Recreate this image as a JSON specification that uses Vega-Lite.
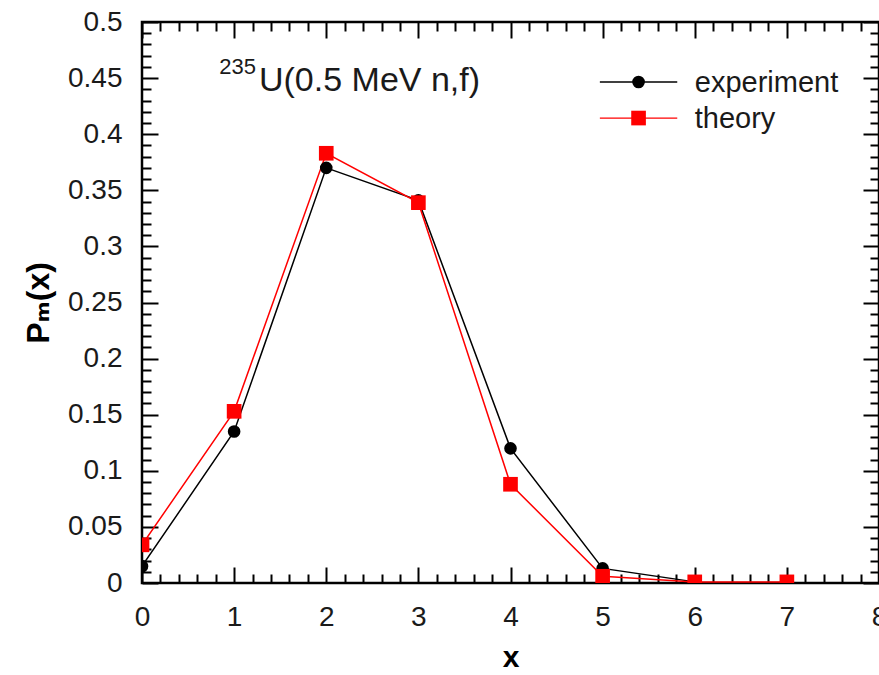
{
  "$schema": "https://vega.github.io/schema/vega-lite/v6.json",
  "width": 737,
  "height": 561,
  "autosize": {"type": "none"},
  "padding": {"left": 142, "top": 22, "right": 0, "bottom": 92},
  "background": "white",
  "config": {
    "view": {"stroke": "black", "strokeWidth": 2.5},
    "font": "Liberation Sans",
    "axis": {
      "grid": false,
      "domain": false,
      "tickColor": "black",
      "tickWidth": 2,
      "labelFont": "Liberation Sans",
      "labelFontSize": 28,
      "labelColor": "#1a1a1a",
      "labelFlush": false,
      "labelOverlap": false,
      "titleFont": "Liberation Sans, DejaVu Sans",
      "titleFontWeight": "bold",
      "titleColor": "black"
    }
  },
  "data": {
    "values": [
      {"x": 0, "P": 0.015, "series": "experiment"},
      {"x": 1, "P": 0.135, "series": "experiment"},
      {"x": 2, "P": 0.370, "series": "experiment"},
      {"x": 3, "P": 0.341, "series": "experiment"},
      {"x": 4, "P": 0.120, "series": "experiment"},
      {"x": 5, "P": 0.013, "series": "experiment"},
      {"x": 6, "P": 0.001, "series": "experiment"},
      {"x": 0, "P": 0.034, "series": "theory"},
      {"x": 1, "P": 0.153, "series": "theory"},
      {"x": 2, "P": 0.383, "series": "theory"},
      {"x": 3, "P": 0.339, "series": "theory"},
      {"x": 4, "P": 0.088, "series": "theory"},
      {"x": 5, "P": 0.006, "series": "theory"},
      {"x": 6, "P": 0.001, "series": "theory"},
      {"x": 7, "P": 0.001, "series": "theory"}
    ]
  },
  "resolve": {"axis": {"x": "independent", "y": "independent"}},
  "layer": [
    {
      "mark": {"type": "line", "clip": true, "strokeWidth": 1.5},
      "encoding": {
        "x": {"field": "x", "type": "quantitative",
          "scale": {"domain": [0, 8], "nice": false, "zero": false},
          "axis": {"orient": "bottom", "values": [0,1,2,3,4,5,6,7,8], "format": "d", "tickSize": -16, "labelPadding": 36, "title": "x", "titleFontSize": 30, "titlePadding": 11}},
        "y": {"field": "P", "type": "quantitative",
          "scale": {"domain": [0, 0.5], "nice": false},
          "axis": {"orient": "left", "values": [0,0.05,0.1,0.15,0.2,0.25,0.3,0.35,0.4,0.45,0.5], "format": "~g", "tickSize": -16, "labelPadding": 36, "title": "Pₘ(x)", "titleFontSize": 32, "titlePadding": 12}},
        "stroke": {"field": "series", "type": "nominal",
          "scale": {"domain": ["experiment", "theory"], "range": ["black", "red"]}, "legend": null}
      }
    },
    {
      "transform": [{"filter": "datum.series === 'experiment'"}],
      "mark": {"type": "point", "shape": "circle", "filled": true, "size": 160, "color": "black", "opacity": 1, "clip": true},
      "encoding": {
        "x": {"field": "x", "type": "quantitative",
          "axis": {"orient": "top", "values": [0,1,2,3,4,5,6,7,8], "tickSize": -16, "labels": false, "title": null}},
        "y": {"field": "P", "type": "quantitative",
          "axis": {"orient": "right", "values": [0,0.05,0.1,0.15,0.2,0.25,0.3,0.35,0.4,0.45,0.5], "tickSize": -16, "labels": false, "title": null}}
      }
    },
    {
      "transform": [{"filter": "datum.series === 'theory'"}],
      "mark": {"type": "point", "shape": "square", "filled": true, "size": 215, "color": "red", "opacity": 1, "clip": true},
      "encoding": {
        "x": {"field": "x", "type": "quantitative",
          "axis": {"orient": "bottom", "values": [0.2,0.4,0.6,0.8,1.2,1.4,1.6,1.8,2.2,2.4,2.6,2.8,3.2,3.4,3.6,3.8,4.2,4.4,4.6,4.8,5.2,5.4,5.6,5.8,6.2,6.4,6.6,6.8,7.2,7.4,7.6,7.8], "tickSize": -9, "labels": false, "title": null}},
        "y": {"field": "P", "type": "quantitative",
          "axis": {"orient": "left", "values": [0.01,0.02,0.03,0.04,0.06,0.07,0.08,0.09,0.11,0.12,0.13,0.14,0.16,0.17,0.18,0.19,0.21,0.22,0.23,0.24,0.26,0.27,0.28,0.29,0.31,0.32,0.33,0.34,0.36,0.37,0.38,0.39,0.41,0.42,0.43,0.44,0.46,0.47,0.48,0.49], "tickSize": -9, "labels": false, "title": null}}
      }
    },
    {
      "data": {"values": [{"series": "experiment"}]},
      "mark": {"type": "rule", "color": "black", "strokeWidth": 1.6},
      "encoding": {
        "x": {"datum": 4.97, "type": "quantitative",
          "axis": {"orient": "top", "values": [0.2,0.4,0.6,0.8,1.2,1.4,1.6,1.8,2.2,2.4,2.6,2.8,3.2,3.4,3.6,3.8,4.2,4.4,4.6,4.8,5.2,5.4,5.6,5.8,6.2,6.4,6.6,6.8,7.2,7.4,7.6,7.8], "tickSize": -9, "labels": false, "title": null}},
        "x2": {"datum": 5.81},
        "y": {"datum": 0.4465, "type": "quantitative",
          "axis": {"orient": "right", "values": [0.01,0.02,0.03,0.04,0.06,0.07,0.08,0.09,0.11,0.12,0.13,0.14,0.16,0.17,0.18,0.19,0.21,0.22,0.23,0.24,0.26,0.27,0.28,0.29,0.31,0.32,0.33,0.34,0.36,0.37,0.38,0.39,0.41,0.42,0.43,0.44,0.46,0.47,0.48,0.49], "tickSize": -9, "labels": false, "title": null}}
      }
    },
    {
      "data": {"values": [{"series": "theory"}]},
      "mark": {"type": "rule", "color": "red", "strokeWidth": 1.3},
      "encoding": {
        "x": {"datum": 4.97, "type": "quantitative", "axis": null},
        "x2": {"datum": 5.81},
        "y": {"datum": 0.4144, "type": "quantitative", "axis": null}
      }
    },
    {
      "data": {"values": [{"series": "experiment"}]},
      "mark": {"type": "point", "shape": "circle", "filled": true, "size": 160, "color": "black", "opacity": 1},
      "encoding": {
        "x": {"datum": 5.39, "type": "quantitative", "axis": null},
        "y": {"datum": 0.4465, "type": "quantitative", "axis": null}
      }
    },
    {
      "data": {"values": [{"series": "theory"}]},
      "mark": {"type": "point", "shape": "square", "filled": true, "size": 215, "color": "red", "opacity": 1},
      "encoding": {
        "x": {"datum": 5.39, "type": "quantitative", "axis": null},
        "y": {"datum": 0.4144, "type": "quantitative", "axis": null}
      }
    },
    {
      "data": {"values": [{"label": "experiment"}]},
      "mark": {"type": "text", "align": "left", "baseline": "alphabetic", "fontSize": 29, "font": "Liberation Sans", "color": "#1a1a1a"},
      "encoding": {
        "x": {"datum": 6.0, "type": "quantitative", "axis": null},
        "y": {"datum": 0.4376, "type": "quantitative", "axis": null},
        "text": {"field": "label"}
      }
    },
    {
      "data": {"values": [{"label": "theory"}]},
      "mark": {"type": "text", "align": "left", "baseline": "alphabetic", "fontSize": 29, "font": "Liberation Sans", "color": "#1a1a1a"},
      "encoding": {
        "x": {"datum": 6.0, "type": "quantitative", "axis": null},
        "y": {"datum": 0.4055, "type": "quantitative", "axis": null},
        "text": {"field": "label"}
      }
    },
    {
      "data": {"values": [{"label": "U(0.5 MeV n,f)"}]},
      "mark": {"type": "text", "align": "left", "baseline": "alphabetic", "fontSize": 34, "font": "Liberation Sans", "color": "#1a1a1a"},
      "encoding": {
        "x": {"datum": 1.27, "type": "quantitative", "axis": null},
        "y": {"datum": 0.4385, "type": "quantitative", "axis": null},
        "text": {"field": "label"}
      }
    },
    {
      "data": {"values": [{"label": "235"}]},
      "mark": {"type": "text", "align": "right", "baseline": "alphabetic", "fontSize": 22, "font": "Liberation Sans", "color": "#1a1a1a", "dx": -3, "dy": -17},
      "encoding": {
        "x": {"datum": 1.27, "type": "quantitative", "axis": null},
        "y": {"datum": 0.4385, "type": "quantitative", "axis": null},
        "text": {"field": "label"}
      }
    }
  ]
}
